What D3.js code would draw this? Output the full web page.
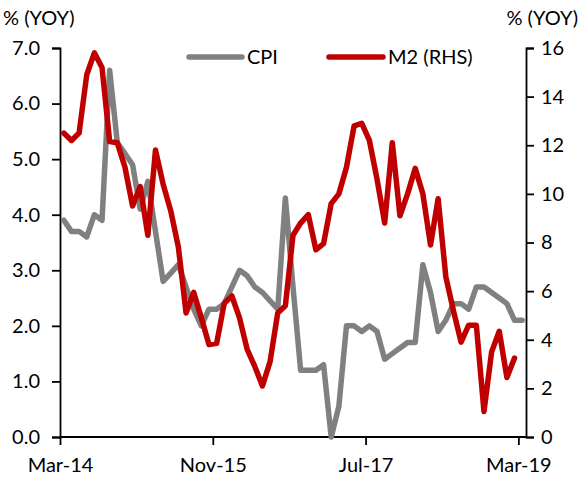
<!DOCTYPE html>
<html>
<head>
<meta charset="utf-8">
<script src="https://cdn.jsdelivr.net/npm/d3@7"></script>
<style>
  html, body { margin: 0; padding: 0; background: #fff; }
  svg text { font-family: Lato, "Open Sans", "Noto Sans", sans-serif; fill: #000; }
</style>
</head>
<body>
<svg id="chart" width="580" height="481"></svg>
<script>
// Monthly categories, Mar-14 .. Mar-19
const months = ["Jan","Feb","Mar","Apr","May","Jun","Jul","Aug","Sep","Oct","Nov","Dec"];
const categories = d3.range(61).map(i => {
  const m = (2 + i) % 12, y = 14 + Math.floor((2 + i) / 12);
  return months[m] + "-" + y;
});

// CPI, % YoY (left axis)
const cpi = [
  3.9, 3.7, 3.7, 3.6, 4.0, 3.9, 6.6, 5.3, 5.1, 4.9,
  4.1, 4.6, 3.7, 2.8, 2.95, 3.1, 2.7, 2.3, 2.0, 2.3,
  2.3, 2.4, 2.7, 3.0, 2.9, 2.7, 2.6, 2.45, 2.3, 4.3,
  2.7, 1.2, 1.2, 1.2, 1.3, 0.0, 0.55, 2.0, 2.0, 1.9,
  2.0, 1.9, 1.4, 1.5, 1.6, 1.7, 1.7, 3.1, 2.6, 1.9,
  2.1, 2.4, 2.4, 2.3, 2.7, 2.7, 2.6, 2.5, 2.4, 2.1,
  2.1
];

// M2, % YoY (right axis)
const m2 = [
  12.5, 12.2, 12.5, 14.9, 15.8, 15.2, 12.15, 12.1, 11.1, 9.5,
  10.3, 8.3, 11.8, 10.4, 9.3, 7.8, 5.1, 5.95, 4.9, 3.8,
  3.85, 5.5, 5.8, 4.9, 3.6, 2.9, 2.1, 3.1, 5.1, 5.4,
  8.3, 8.8, 9.15, 7.7, 7.95, 9.6, 10.0, 11.1, 12.8, 12.9,
  12.2, 10.6, 8.8, 12.1, 9.1, 10.0, 11.05, 10.0, 7.9, 9.8,
  6.6, 5.2, 3.9, 4.6, 4.6, 1.05, 3.5, 4.35, 2.45, 3.25
];

const leftTicks = [0, 1, 2, 3, 4, 5, 6, 7];
const rightTicks = [0, 2, 4, 6, 8, 10, 12, 14, 16];
const xTickLabels = ["Mar-14", "Nov-15", "Jul-17", "Mar-19"];
const seriesNames = ["CPI", "M2 (RHS)"];
const axisTitle = "% (YOY)";

const svg = d3.select("#chart");
const plotLeft = 60, plotRight = 526, plotTop = 48, plotBottom = 437;
const fontSize = "20px";

// Category band: each month occupies one slot, points sit in the middle
const x = d3.scaleBand().domain(d3.range(categories.length)).range([plotLeft, plotRight]).paddingInner(0).paddingOuter(0);
const xc = i => x(i) + x.bandwidth() / 2;
const yL = d3.scaleLinear().domain([0, 7]).range([plotBottom, plotTop]);
const yR = d3.scaleLinear().domain([0, 16]).range([plotBottom, plotTop]);

// Left axis
const gL = svg.append("g").attr("transform", `translate(${plotLeft},0)`)
  .call(d3.axisLeft(yL).tickValues(leftTicks).tickFormat(d3.format(".1f")).tickSizeOuter(0).tickSize(8).tickPadding(12));
// Right axis
const gR = svg.append("g").attr("transform", `translate(${plotRight},0)`)
  .call(d3.axisRight(yR).tickValues(rightTicks).tickFormat(d3.format("d")).tickSizeOuter(0).tickSize(8).tickPadding(7));

// Bottom axis: ticks every 20 months on category boundaries
const xLin = d3.scaleLinear().domain([0, categories.length]).range([plotLeft, plotRight]);
const gX = svg.append("g").attr("transform", `translate(0,${plotBottom})`)
  .call(d3.axisBottom(xLin).tickValues([0, 20, 40, 60])
    .tickFormat((d, i) => xTickLabels[i]).tickSizeOuter(0).tickSize(8).tickPadding(13));

[gL, gR, gX].forEach(g => {
  g.selectAll("path.domain").attr("stroke", "#000").attr("stroke-width", 1.8);
  g.selectAll(".tick line").attr("stroke", "#000").attr("stroke-width", 1.8);
  g.selectAll(".tick text").style("font-size", fontSize).attr("fill", "#000");
});
gX.select("path.domain").attr("d", `M${plotLeft},0H${plotRight}`);

// Unit labels
svg.append("text").attr("x", 3).attr("y", 25).style("font-size", fontSize).text(axisTitle);
svg.append("text").attr("x", 578).attr("y", 25).attr("text-anchor", "end").style("font-size", fontSize).text(axisTitle);

// Lines
const lineL = d3.line().x((d, i) => xc(i)).y(d => yL(d));
const lineR = d3.line().x((d, i) => xc(i)).y(d => yR(d));

svg.append("path").datum(cpi).attr("d", lineL)
  .attr("fill", "none").attr("stroke", "#808080").attr("stroke-width", 5.5)
  .attr("stroke-linejoin", "round").attr("stroke-linecap", "round");
svg.append("path").datum(m2).attr("d", lineR)
  .attr("fill", "none").attr("stroke", "#C00000").attr("stroke-width", 5.5)
  .attr("stroke-linejoin", "round").attr("stroke-linecap", "round");

// Legend
const legend = [
  { name: seriesNames[0], color: "#808080", x0: 189, x1: 242, tx: 247 },
  { name: seriesNames[1], color: "#C00000", x0: 329, x1: 383, tx: 388 }
];
legend.forEach(l => {
  svg.append("line").attr("x1", l.x0).attr("x2", l.x1).attr("y1", 57).attr("y2", 57)
    .attr("stroke", l.color).attr("stroke-width", 5.5).attr("stroke-linecap", "round");
  svg.append("text").attr("x", l.tx).attr("y", 64).style("font-size", fontSize).text(l.name);
});
</script>
</body>
</html>
